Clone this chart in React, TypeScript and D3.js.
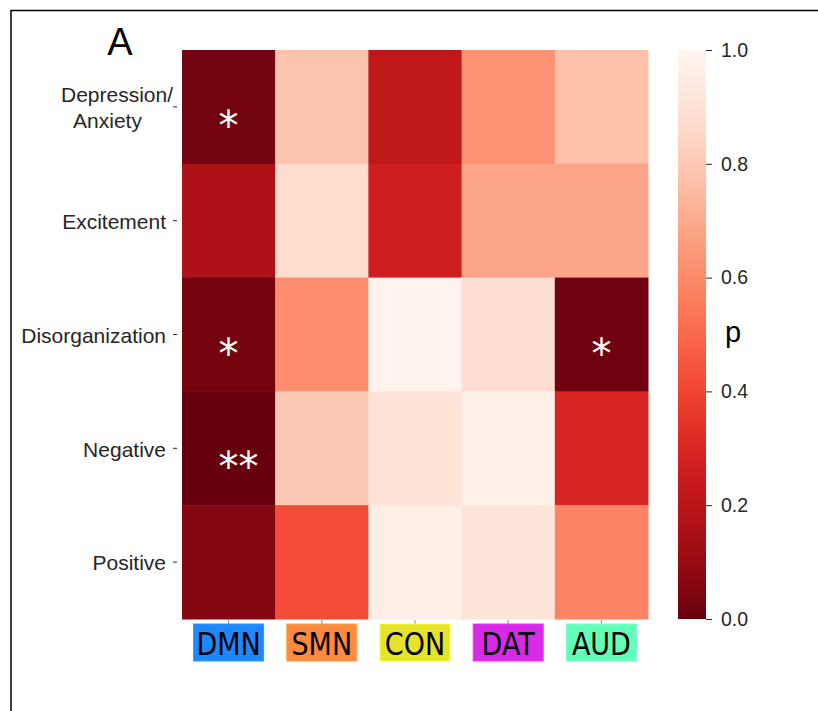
import React, { useRef, useEffect } from 'react';
import * as d3 from 'd3';

// Rows (symptom domains) and columns (networks)
const symptoms = ['Depression/\nAnxiety', 'Excitement', 'Disorganization', 'Negative', 'Positive'];
const networks = ['DMN', 'SMN', 'CON', 'DAT', 'AUD'];
const networkColors = ['#1f87ff', '#fd8a3f', '#e5e22b', '#d72ae6', '#64ffb6'];

// p-values, one array per row
const pDepression = [0.025, 0.78, 0.215, 0.625, 0.77];
const pExcitement = [0.16, 0.875, 0.26, 0.68, 0.68];
const pDisorganization = [0.03, 0.61, 0.99, 0.88, 0.015];
const pNegative = [0.0, 0.8, 0.9, 0.97, 0.29];
const pPositive = [0.06, 0.42, 0.96, 0.91, 0.58];
const pValues = [pDepression, pExcitement, pDisorganization, pNegative, pPositive];

// significance marks per row
const starsDepression = ['*', '', '', '', ''];
const starsExcitement = ['', '', '', '', ''];
const starsDisorganization = ['*', '', '', '', '*'];
const starsNegative = ['**', '', '', '', ''];
const starsPositive = ['', '', '', '', ''];
const stars = [starsDepression, starsExcitement, starsDisorganization, starsNegative, starsPositive];

const colorbarTicks = [0, 0.2, 0.4, 0.6, 0.8, 1.0];

const W = 818;
const H = 711;

const App: React.FC = () => {
  const svgRef = useRef<SVGSVGElement>(null);

  useEffect(() => {
    const svg = d3.select(svgRef.current);
    svg.selectAll('*').remove();

    const textColor = '#262626';
    const tickFont = '"Liberation Sans", Arial, sans-serif';
    const color = (p: number) => d3.interpolateReds(1 - p);

    // frame
    svg.append('path')
      .attr('d', `M11,${H} L11,10.5 L${W},10.5`)
      .attr('fill', 'none')
      .attr('stroke', '#000')
      .attr('stroke-width', 1.5);

    const left = 182, right = 648, top = 50, bottom = 619;

    const x = d3.scaleBand<string>().domain(networks).range([left, right]);
    const y = d3.scaleBand<string>().domain(symptoms).range([top, bottom]);

    // cells
    const cells = symptoms.flatMap((s, i) =>
      networks.map((n, j) => ({ s, n, p: pValues[i][j], star: stars[i][j] }))
    );

    svg.append('g')
      .selectAll('rect')
      .data(cells)
      .enter()
      .append('rect')
      .attr('x', d => x(d.n)!)
      .attr('y', d => y(d.s)!)
      .attr('width', x.bandwidth() + 0.5)
      .attr('height', y.bandwidth() + 0.5)
      .attr('fill', d => color(d.p));

    // asterisks
    svg.append('g')
      .selectAll('text')
      .data(cells.filter(d => d.star))
      .enter()
      .append('text')
      .attr('x', d => x(d.n)! + x.bandwidth() / 2 - 10)
      .attr('y', d => y(d.s)! + y.bandwidth() / 2 + 33)
      .attr('fill', '#fff')
      .style('font-family', '"DejaVu Sans", sans-serif')
      .style('font-size', '40px')
      .text(d => d.star);

    // y axis ticks + labels
    const yAxis = svg.append('g');
    symptoms.forEach(s => {
      const cy = y(s)! + y.bandwidth() / 2;
      yAxis.append('line')
        .attr('x1', 173).attr('x2', 177)
        .attr('y1', cy).attr('y2', cy)
        .attr('stroke', textColor)
        .attr('stroke-width', 1);
      const lines = s.split('\n');
      const lh = 26;
      lines.forEach((line, k) => {
        const ty = cy + 1 + (k - (lines.length - 1) / 2) * lh;
        yAxis.append('text')
          .attr('x', lines.length > 1 ? 117 - k * 9.5 : 166)
          .attr('y', ty)
          .attr('dy', '0.35em')
          .attr('text-anchor', lines.length > 1 ? 'middle' : 'end')
          .attr('fill', textColor)
          .style('font-family', tickFont)
          .style('font-size', '21px')
          .text(line);
      });
    });

    // x axis ticks + coloured network labels
    const xAxis = svg.append('g');
    networks.forEach((n, j) => {
      const cx = x(n)! + x.bandwidth() / 2;
      xAxis.append('line')
        .attr('x1', cx).attr('x2', cx)
        .attr('y1', 620).attr('y2', 624)
        .attr('stroke', '#888')
        .attr('stroke-width', 1);
      xAxis.append('rect')
        .attr('x', cx - 35)
        .attr('y', 624)
        .attr('width', 70)
        .attr('height', 37)
        .attr('fill', networkColors[j])
        .attr('stroke', d3.color(networkColors[j])!.brighter(0.4).toString())
        .attr('stroke-width', 1);
      xAxis.append('text')
        .attr('transform', `translate(${cx},655) scale(1,1.15)`)
        .attr('text-anchor', 'middle')
        .attr('fill', '#000')
        .style('font-family', '"DejaVu Sans", sans-serif')
        .style('font-size', '27px')
        .text(n);
    });

    // colorbar
    const cbLeft = 678, cbRight = 706;
    const cbScale = d3.scaleLinear().domain([0, 1]).range([bottom, top]);
    const defs = svg.append('defs');
    const grad = defs.append('linearGradient')
      .attr('id', 'cbgrad')
      .attr('x1', 0).attr('y1', 1).attr('x2', 0).attr('y2', 0);
    d3.range(0, 1.0001, 0.05).forEach(t => {
      grad.append('stop')
        .attr('offset', `${t * 100}%`)
        .attr('stop-color', color(t));
    });
    svg.append('rect')
      .attr('x', cbLeft)
      .attr('y', top)
      .attr('width', cbRight - cbLeft)
      .attr('height', bottom - top)
      .attr('fill', 'url(#cbgrad)');

    const cbAxis = svg.append('g')
      .attr('transform', `translate(${cbRight},0)`)
      .call(d3.axisRight(cbScale).tickValues(colorbarTicks).tickFormat(d3.format('.1f')).tickSize(6).tickPadding(9));
    cbAxis.select('.domain').remove();
    cbAxis.selectAll('.tick line').attr('stroke', textColor);
    cbAxis.selectAll('text')
      .attr('fill', textColor)
      .style('font-family', tickFont)
      .style('font-size', '19.5px');

    svg.append('text')
      .attr('x', 733)
      .attr('y', 342)
      .attr('text-anchor', 'middle')
      .attr('fill', '#000')
      .style('font-family', tickFont)
      .style('font-size', '29px')
      .text('p');

    // panel letter
    svg.append('text')
      .attr('x', 120)
      .attr('y', 55)
      .attr('text-anchor', 'middle')
      .attr('fill', '#000')
      .style('font-family', tickFont)
      .style('font-size', '38px')
      .text('A');
  }, []);

  return (
    <svg
      ref={svgRef}
      width={W}
      height={H}
      viewBox={`0 0 ${W} ${H}`}
      style={{ position: 'absolute', left: 0, top: 0, background: '#fff', display: 'block' }}
    />
  );
};

export default App;
